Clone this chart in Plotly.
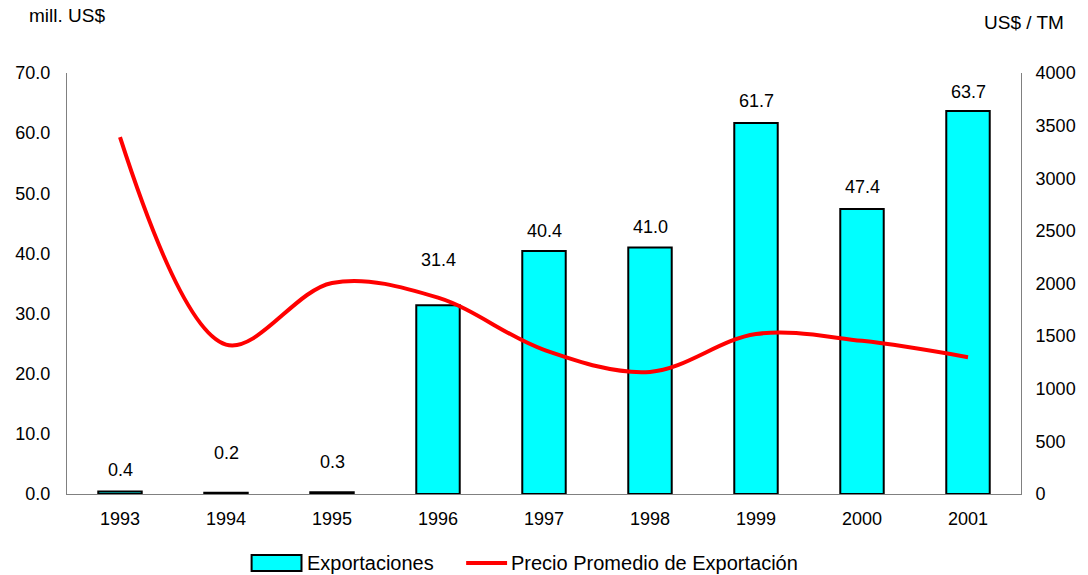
import plotly.graph_objects as go

years = ["1993", "1994", "1995", "1996", "1997", "1998", "1999", "2000", "2001"]
exportaciones = [0.4, 0.2, 0.3, 31.4, 40.4, 41.0, 61.7, 47.4, 63.7]
precio = [3390, 1420, 2005, 1865, 1370, 1160, 1520, 1455, 1300]
label_shift = [22, 40, 30, 45, 20, 20, 22, 22, 19]

FONT = "Liberation Sans, Arial, sans-serif"
BAR_NAME = "Exportaciones"
LINE_NAME = "Precio Promedio de Exportación"

fig = go.Figure()
fig.add_trace(go.Bar(
    x=years, y=exportaciones, name=BAR_NAME,
    marker=dict(color="#00FFFF", line=dict(color="black", width=2)),
    width=0.41, yaxis="y", showlegend=False,
))
fig.add_trace(go.Scatter(
    x=years, y=precio, name=LINE_NAME,
    mode="lines", line=dict(color="#FF0000", width=4, shape="spline", smoothing=1.0),
    yaxis="y2", showlegend=False,
))

# data labels (category axis: position by category index)
for i, (v, s) in enumerate(zip(exportaciones, label_shift)):
    fig.add_annotation(x=i, y=v, xref="x", yref="y", text=f"{v:.1f}",
                       showarrow=False, yshift=s, font=dict(size=18, color="black", family=FONT))

# axis titles
fig.add_annotation(xref="paper", yref="paper", x=-0.042, y=1.137, text="mill. US$",
                   showarrow=False, xanchor="left", yanchor="middle",
                   font=dict(size=19, color="black", family=FONT))
fig.add_annotation(xref="paper", yref="paper", x=1.047, y=1.12, text="US$ / TM",
                   showarrow=False, xanchor="right", yanchor="middle",
                   font=dict(size=19, color="black", family=FONT))

# manual legend
fig.add_shape(type="rect", xref="paper", yref="paper", x0=0.1935, x1=0.2458, y0=-0.1829, y1=-0.1449,
              fillcolor="#00FFFF", line=dict(color="black", width=2))
fig.add_shape(type="line", xref="paper", yref="paper", x0=0.4184, x1=0.4613, y0=-0.1639, y1=-0.1639,
              line=dict(color="#FF0000", width=4))
fig.add_annotation(xref="paper", yref="paper", x=0.2495, y=-0.1639, text=BAR_NAME, showarrow=False,
                   xanchor="left", yanchor="middle", font=dict(size=20, color="black", family=FONT))
fig.add_annotation(xref="paper", yref="paper", x=0.4635, y=-0.1639, text=LINE_NAME, showarrow=False,
                   xanchor="left", yanchor="middle", font=dict(size=20, color="black", family=FONT))

fig.update_layout(
    width=1088, height=575,
    margin=dict(l=67, r=65, t=73, b=81),
    paper_bgcolor="white", plot_bgcolor="white",
    font=dict(family=FONT, size=18, color="black"),
    showlegend=False,
    xaxis=dict(type="category", showline=True, linecolor="#808080", linewidth=1, ticks="",
               showgrid=False, tickfont=dict(size=18), range=[-0.5, 8.5], ticklabelstandoff=8),
    yaxis=dict(range=[0, 70], dtick=10, tickformat=".1f", showline=True, linecolor="#808080",
               linewidth=1, showgrid=False, ticks="", zeroline=False, tickfont=dict(size=18),
               ticklabelstandoff=12),
    yaxis2=dict(range=[0, 4000], dtick=500, overlaying="y", side="right", showline=True,
                linecolor="#808080", linewidth=1, showgrid=False, ticks="", zeroline=False,
                tickfont=dict(size=18), ticklabelstandoff=10),
)

fig.write_html("out.html", config={"displayModeBar": False},
               post_script="document.body.style.margin='0';document.body.style.overflow='hidden';")
